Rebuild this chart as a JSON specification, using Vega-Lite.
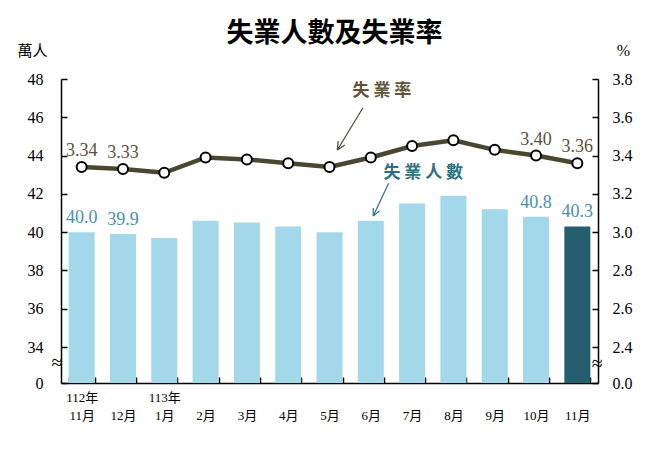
{
  "$schema": "https://vega.github.io/schema/vega-lite/v6.json",
  "width": 537,
  "height": 304,
  "autosize": {"type": "none"},
  "padding": {"left": 61, "top": 79, "right": 67, "bottom": 70},
  "background": "white",
  "config": {"view": {"stroke": null}, "font": "Liberation Serif, Noto Sans CJK TC"},
  "title": {"text": "失業人數及失業率", "font": "Noto Sans CJK TC", "fontWeight": "bold", "fontSize": 27, "color": "#000000", "anchor": "middle", "frame": "group", "offset": 0, "dx": 5, "dy": 6},
  "datasets": {
    "main": [
      {"period": "112年11月", "count": 40.0, "rate": 3.34},
      {"period": "112年12月", "count": 39.9, "rate": 3.33},
      {"period": "113年1月", "count": 39.7, "rate": 3.31},
      {"period": "113年2月", "count": 40.6, "rate": 3.39},
      {"period": "113年3月", "count": 40.5, "rate": 3.38},
      {"period": "113年4月", "count": 40.3, "rate": 3.36},
      {"period": "113年5月", "count": 40.0, "rate": 3.34},
      {"period": "113年6月", "count": 40.6, "rate": 3.39},
      {"period": "113年7月", "count": 41.5, "rate": 3.45},
      {"period": "113年8月", "count": 41.9, "rate": 3.48},
      {"period": "113年9月", "count": 41.2, "rate": 3.43},
      {"period": "113年10月", "count": 40.8, "rate": 3.40},
      {"period": "113年11月", "count": 40.3, "rate": 3.36}
    ],
    "notes": [
      {"ax": 7.77, "ay": 47.39, "label": "失 業 率", "series": "rate"},
      {"ax": 8.77, "ay": 43.07, "label": "失 業 人 數", "series": "count"}
    ],
    "breaks": [
      {"ax": -0.1, "ay": 33.19, "label": "≈"},
      {"ax": 12.98, "ay": 33.11, "label": "≈"}
    ],
    "arrows": [
      {"ax": 7.31, "ay": 46.5, "bx": 6.69, "by": 44.29, "series": "rate"},
      {"ax": 6.69, "ay": 44.29, "bx": 6.87, "by": 44.55, "series": "rate"},
      {"ax": 6.69, "ay": 44.29, "bx": 6.71, "by": 44.76, "series": "rate"},
      {"ax": 7.93, "ay": 42.55, "bx": 7.56, "by": 40.84, "series": "count"},
      {"ax": 7.56, "ay": 40.84, "bx": 7.71, "by": 41.11, "series": "count"},
      {"ax": 7.56, "ay": 40.84, "bx": 7.56, "by": 41.26, "series": "count"}
    ]
  },
  "layer": [
    {
      "data": {"name": "main"},
      "layer": [
        {
          "mark": {"type": "bar"},
          "encoding": {
            "x": {"field": "period", "type": "ordinal", "sort": null,
              "scale": {"paddingInner": 0.37, "paddingOuter": 0.185},
              "axis": {"title": null, "labelAngle": 0, "tickBand": "extent", "tickSize": -6, "tickColor": "#000000", "tickWidth": 1.5,
                "domainColor": "#000000", "domainWidth": 1.5, "labelFontSize": 13, "labelColor": "#000000", "labelLineHeight": 18,
                "labelBaseline": "top", "labelPadding": 14, "labelAlign": "center", "labelOverlap": false,
                "labelExpr": "!isString(datum.value) ? '' : datum.value == '112年11月' ? ['112年', '11月'] : datum.value == '113年1月' ? ['113年', '1月'] : [' ', substring(datum.value, 4)]"}},
            "y": {"field": "count", "type": "quantitative",
              "scale": {"domain": [32.12, 48], "nice": false, "zero": false},
              "axis": {"orient": "left", "values": [32.12, 34, 36, 38, 40, 42, 44, 46, 48], "grid": false,
                "labelExpr": "datum.value < 33 ? '0' : datum.label", "tickSize": -6, "tickColor": "#000000", "tickWidth": 1.5,
                "domainColor": "#000000", "domainWidth": 1.5, "labelFontSize": 16, "labelColor": "#000000", "labelPadding": 24,
                "title": "萬人", "titleAngle": 0, "titleX": -29, "titleY": -29, "titleAlign": "center", "titleBaseline": "middle",
                "titleFontSize": 15, "titleFontWeight": "normal", "titleColor": "#000000", "titleFont": "Noto Sans CJK TC"}},
            "y2": {"datum": 32.12},
            "color": {"condition": {"test": "datum.period === '113年11月'", "value": "#255f6f"}, "value": "#a3d7ea"}
          }
        },
        {
          "transform": [{"filter": {"field": "period", "oneOf": ["112年11月", "112年12月", "113年10月", "113年11月"]}}],
          "mark": {"type": "text", "dy": -14, "fontSize": 18, "color": "#4a90aa", "baseline": "middle"},
          "encoding": {
            "x": {"field": "period", "type": "ordinal", "sort": null},
            "y": {"field": "count", "type": "quantitative", "scale": {"domain": [32.12, 48], "nice": false, "zero": false}, "axis": null},
            "text": {"field": "count", "type": "quantitative", "format": ".1f"}
          }
        },
        {
          "mark": {"type": "line", "color": "#4a4630", "strokeWidth": 4.5,
            "point": {"filled": true, "fill": "white", "stroke": "#000000", "strokeWidth": 2, "size": 100, "opacity": 1}},
          "encoding": {
            "x": {"field": "period", "type": "ordinal", "sort": null},
            "y": {"field": "rate", "type": "quantitative",
              "scale": {"domain": [2.212, 3.8], "nice": false, "zero": false},
              "axis": {"orient": "right", "values": [2.212, 2.4, 2.6, 2.8, 3.0, 3.2, 3.4, 3.6, 3.8], "grid": false,
                "labelExpr": "datum.value < 2.3 ? '0.0' : format(datum.value, '.1f')", "tickSize": -6, "tickColor": "#000000", "tickWidth": 1.5,
                "domainColor": "#000000", "domainWidth": 1.5, "labelFontSize": 16, "labelColor": "#000000", "labelPadding": 20,
                "title": "%", "titleAngle": 0, "titleX": 25, "titleY": -29, "titleAlign": "center", "titleBaseline": "middle",
                "titleFontSize": 16, "titleFontWeight": "normal", "titleColor": "#000000"}}
          }
        },
        {
          "transform": [{"filter": {"field": "period", "oneOf": ["112年11月", "112年12月", "113年10月", "113年11月"]}}],
          "mark": {"type": "text", "dy": -16, "fontSize": 18, "color": "#5b5040", "baseline": "middle"},
          "encoding": {
            "x": {"field": "period", "type": "ordinal", "sort": null},
            "y": {"field": "rate", "type": "quantitative", "scale": {"domain": [2.212, 3.8], "nice": false, "zero": false}, "axis": null},
            "text": {"field": "rate", "type": "quantitative", "format": ".2f"}
          }
        }
      ],
      "resolve": {"scale": {"y": "independent"}}
    },
    {
      "data": {"name": "arrows"},
      "mark": {"type": "rule", "strokeWidth": 1.2},
      "encoding": {
        "x": {"field": "ax", "type": "quantitative", "scale": {"domain": [0, 13], "nice": false, "zero": false}, "axis": null},
        "y": {"field": "ay", "type": "quantitative", "scale": {"domain": [32.12, 48], "nice": false, "zero": false}, "axis": null},
        "x2": {"field": "bx"},
        "y2": {"field": "by"},
        "color": {"field": "series", "type": "nominal", "scale": {"domain": ["rate", "count"], "range": ["#4a4636", "#2e6f82"]}, "legend": null}
      }
    },
    {
      "data": {"name": "notes"},
      "mark": {"type": "text", "fontSize": 17, "fontWeight": "bold", "font": "Noto Sans CJK TC", "baseline": "middle", "align": "center"},
      "encoding": {
        "x": {"field": "ax", "type": "quantitative", "scale": {"domain": [0, 13], "nice": false, "zero": false}, "axis": null},
        "y": {"field": "ay", "type": "quantitative", "scale": {"domain": [32.12, 48], "nice": false, "zero": false}, "axis": null},
        "text": {"field": "label"},
        "color": {"field": "series", "type": "nominal", "scale": {"domain": ["rate", "count"], "range": ["#5e5439", "#2e6f82"]}, "legend": null}
      }
    },
    {
      "data": {"name": "breaks"},
      "mark": {"type": "text", "fontSize": 20, "baseline": "middle", "align": "center", "color": "#000000"},
      "encoding": {
        "x": {"field": "ax", "type": "quantitative", "scale": {"domain": [0, 13], "nice": false, "zero": false}, "axis": null},
        "y": {"field": "ay", "type": "quantitative", "scale": {"domain": [32.12, 48], "nice": false, "zero": false}, "axis": null},
        "text": {"field": "label"}
      }
    }
  ],
  "resolve": {"scale": {"x": "independent", "y": "independent", "color": "independent"}}
}
